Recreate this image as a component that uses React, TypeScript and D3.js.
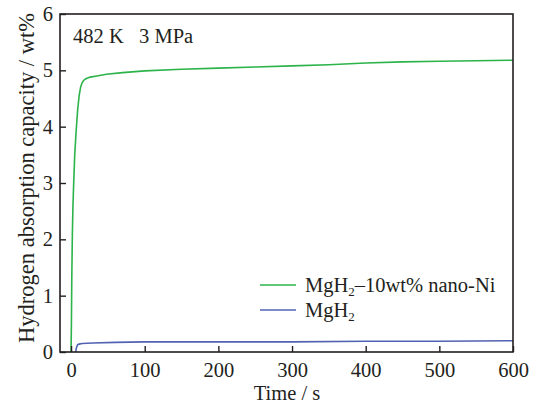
import { useEffect, useRef } from "react";
import * as d3 from "d3";

// time (s) and absorbed hydrogen (wt%)
const niTime = [0, 0.5, 1, 1.8, 2.6, 3.6, 5, 6.8, 9, 11, 13, 15, 17, 20, 26, 35, 48, 70, 100, 150, 200, 250, 300, 350, 400, 450, 500, 550, 600];
const niCap = [0, 0.5, 1.3, 2.1, 2.6, 3.0, 3.5, 3.9, 4.3, 4.55, 4.7, 4.78, 4.82, 4.85, 4.88, 4.9, 4.93, 4.96, 4.99, 5.02, 5.04, 5.06, 5.08, 5.1, 5.13, 5.15, 5.16, 5.17, 5.18];
const pureTime = [6.4, 7, 8, 9, 11, 15, 30, 60, 100, 200, 300, 400, 500, 600];
const pureCap = [0, 0.06, 0.1, 0.13, 0.14, 0.15, 0.16, 0.17, 0.18, 0.18, 0.18, 0.19, 0.19, 0.2];
const xTicks = [0, 100, 200, 300, 400, 500, 600];
const yTicks = [0, 1, 2, 3, 4, 5, 6];

const font = "'Liberation Serif', 'Times New Roman', serif";
const ink = "#231f20";

export default function App() {
    const svgRef = useRef<SVGSVGElement>(null);
    const width = 537;
    const height = 405;
    const margin = { top: 14, right: 24, bottom: 53, left: 60 };

    useEffect(() => {
        const svg = d3.select(svgRef.current);
        svg.selectAll("*").remove();

        const x = d3.scaleLinear().domain([-15, 600]).range([margin.left, width - margin.right]);
        const y = d3.scaleLinear().domain([0, 6]).range([height - margin.bottom, margin.top]);

        const g = svg.append("g").style("font-family", font).attr("fill", ink);

        // curves
        const line = d3.line<[number, number]>().x(d => x(d[0])).y(d => y(d[1]));
        const series = [
            { t: niTime, v: niCap, color: "#2cb34a" },
            { t: pureTime, v: pureCap, color: "#5262b3" },
        ];
        series.forEach(s => {
            g.append("path")
                .datum(s.t.map((t, i) => [t, s.v[i]] as [number, number]))
                .attr("fill", "none")
                .attr("stroke", s.color)
                .attr("stroke-width", 1.6)
                .attr("d", line);
        });

        // frame
        g.append("rect")
            .attr("x", x(-15))
            .attr("y", y(6))
            .attr("width", x(600) - x(-15))
            .attr("height", y(0) - y(6))
            .attr("fill", "none")
            .attr("stroke", ink)
            .attr("stroke-width", 1.6);

        // inward ticks
        const xAxis = g.append("g").attr("transform", `translate(0,${y(0)})`)
            .call(d3.axisBottom(x).tickValues(xTicks).tickFormat(d3.format("d")).tickSizeInner(-6).tickSizeOuter(0).tickPadding(10));
        const yAxis = g.append("g").attr("transform", `translate(${x(-15)},0)`)
            .call(d3.axisLeft(y).tickValues(yTicks).tickFormat(d3.format("d")).tickSizeInner(-6).tickSizeOuter(0).tickPadding(7));
        [xAxis, yAxis].forEach(a => {
            a.select(".domain").remove();
            a.selectAll("line").attr("stroke", ink).attr("stroke-width", 1.4);
            a.selectAll("text")
                .style("font-family", font)
                .style("font-size", "20.5px")
                .attr("fill", ink);
        });

        // axis titles
        g.append("text")
            .attr("x", 287)
            .attr("y", 400)
            .attr("text-anchor", "middle")
            .style("font-size", "20.5px")
            .text("Time / s");
        g.append("text")
            .attr("transform", "translate(33.5,178) rotate(-90)")
            .attr("text-anchor", "middle")
            .style("font-size", "22.5px")
            .text("Hydrogen absorption capacity / wt%");

        // condition label
        g.append("text")
            .attr("x", 73)
            .attr("y", 43)
            .style("font-size", "20.5px")
            .style("white-space", "pre")
            .text("482 K   3 MPa");

        // legend
        const legend = [
            { color: "#2cb34a", rest: "–10wt% nano-Ni", yy: 285 },
            { color: "#5262b3", rest: "", yy: 310 },
        ];
        legend.forEach(l => {
            g.append("line")
                .attr("x1", 260).attr("x2", 296)
                .attr("y1", l.yy).attr("y2", l.yy)
                .attr("stroke", l.color).attr("stroke-width", 1.4);
            const t = g.append("text")
                .attr("x", 305)
                .attr("y", l.yy + 7)
                .style("font-size", "20.5px");
            t.append("tspan").text("MgH");
            t.append("tspan").style("font-size", "13px").attr("dy", 4).text("2");
            if (l.rest) t.append("tspan").attr("dy", -4).text(l.rest);
        });
    }, []);

    return (
        <svg
            ref={svgRef}
            width={width}
            height={height}
            style={{ position: "absolute", left: 0, top: 0, background: "#fff" }}
        />
    );
}
